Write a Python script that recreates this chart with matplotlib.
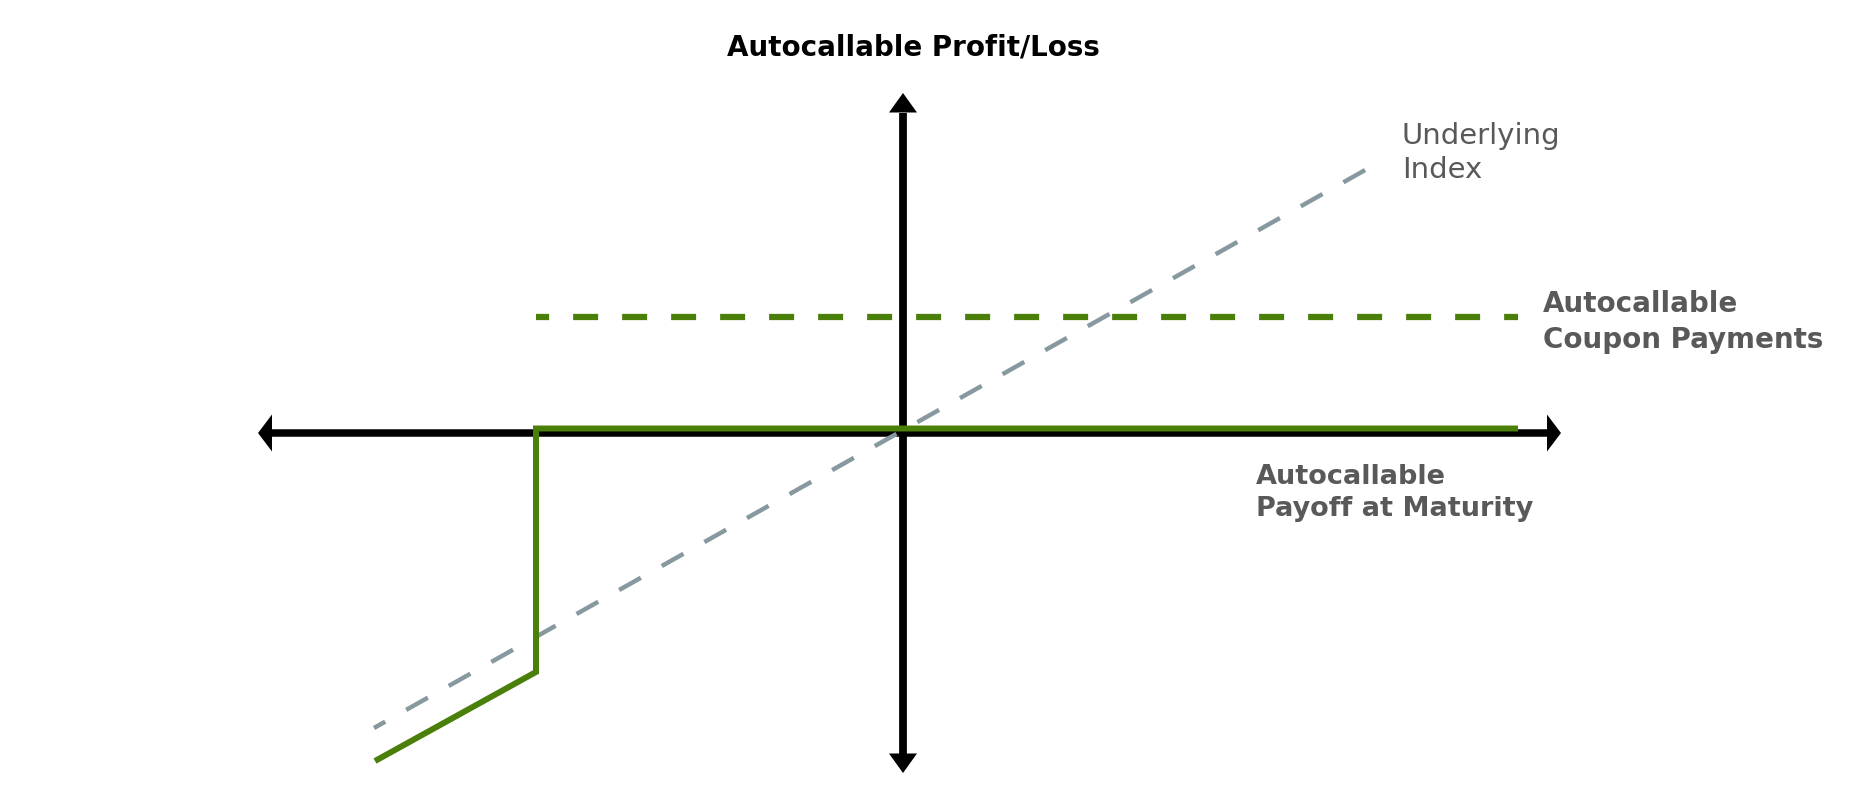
import matplotlib
matplotlib.use("Agg")
import matplotlib.pyplot as plt

plt.rcParams['font.family'] = ['DejaVu Sans']

# payoff diagram data (units = 100 px, origin at the axes crossing)
axis_x = [-6.45, 6.58]
axis_y = [-3.40, 3.40]

payoff_x = [-5.28, -3.67, -3.67, 6.15]
payoff_y = [-3.28, -2.39, 0.045, 0.045]

coupon_x = [-3.67, 6.15]
coupon_y = [1.16, 1.16]

index_x = [-5.29, 4.80]
index_y = [-2.95, 2.73]

green = "#4a7f0a"
grey_line = "#87999e"
grey_text = "#595959"

fig = plt.figure(figsize=(18.75, 8.06), dpi=100)
ax = fig.add_axes([0, 0, 1, 1])
ax.set_xlim(-9.03, 9.72)
ax.set_ylim(-3.73, 4.33)
ax.axis("off")

# axis shafts + filled arrow heads
hl_h, hw_h = 0.14, 0.185   # horizontal heads
hl_v, hw_v = 0.195, 0.14   # vertical heads
ax.plot([axis_x[0] + hl_h, axis_x[1] - hl_h], [0, 0], color="black", lw=5.4,
        solid_capstyle="butt", zorder=2)
ax.plot([0, 0], [axis_y[0] + hl_v, axis_y[1] - hl_v], color="black", lw=5.6,
        solid_capstyle="butt", zorder=2)
x0, x1 = axis_x
y0, y1 = axis_y
ax.fill([x1, x1 - hl_h, x1 - hl_h], [0, hw_h, -hw_h], color="black", lw=0, zorder=2)
ax.fill([x0, x0 + hl_h, x0 + hl_h], [0, hw_h, -hw_h], color="black", lw=0, zorder=2)
ax.fill([0, -hw_v, hw_v], [y1, y1 - hl_v, y1 - hl_v], color="black", lw=0, zorder=2)
ax.fill([0, -hw_v, hw_v], [y0, y0 + hl_v, y0 + hl_v], color="black", lw=0, zorder=2)

ax.plot(index_x, index_y, color=grey_line, lw=3.2, linestyle=(2.7, (5.6, 5.4)),
        dash_capstyle="butt", zorder=3)
ax.plot(coupon_x, coupon_y, color=green, lw=4.5, linestyle=(1.9, (4.0, 3.84)),
        dash_capstyle="butt", zorder=4)
ax.plot(payoff_x, payoff_y, color=green, lw=4.3, zorder=5,
        solid_joinstyle="miter", solid_capstyle="butt")

ax.text(0.10, 3.855, "Autocallable Profit/Loss", ha="center", va="center",
        fontsize=20, fontweight="bold", color="black")
ax.text(4.99, 2.80, "Underlying\nIndex", ha="left", va="center",
        fontsize=21, color=grey_text, linespacing=1.3)
ax.text(6.40, 1.11, "Autocallable\nCoupon Payments", ha="left", va="center",
        fontsize=20, fontweight="bold", color=grey_text, linespacing=1.35)
ax.text(3.53, -0.60, "Autocallable\nPayoff at Maturity", ha="left", va="center",
        fontsize=19.5, fontweight="bold", color=grey_text, linespacing=1.35)

fig.savefig("out.png", dpi=100)
